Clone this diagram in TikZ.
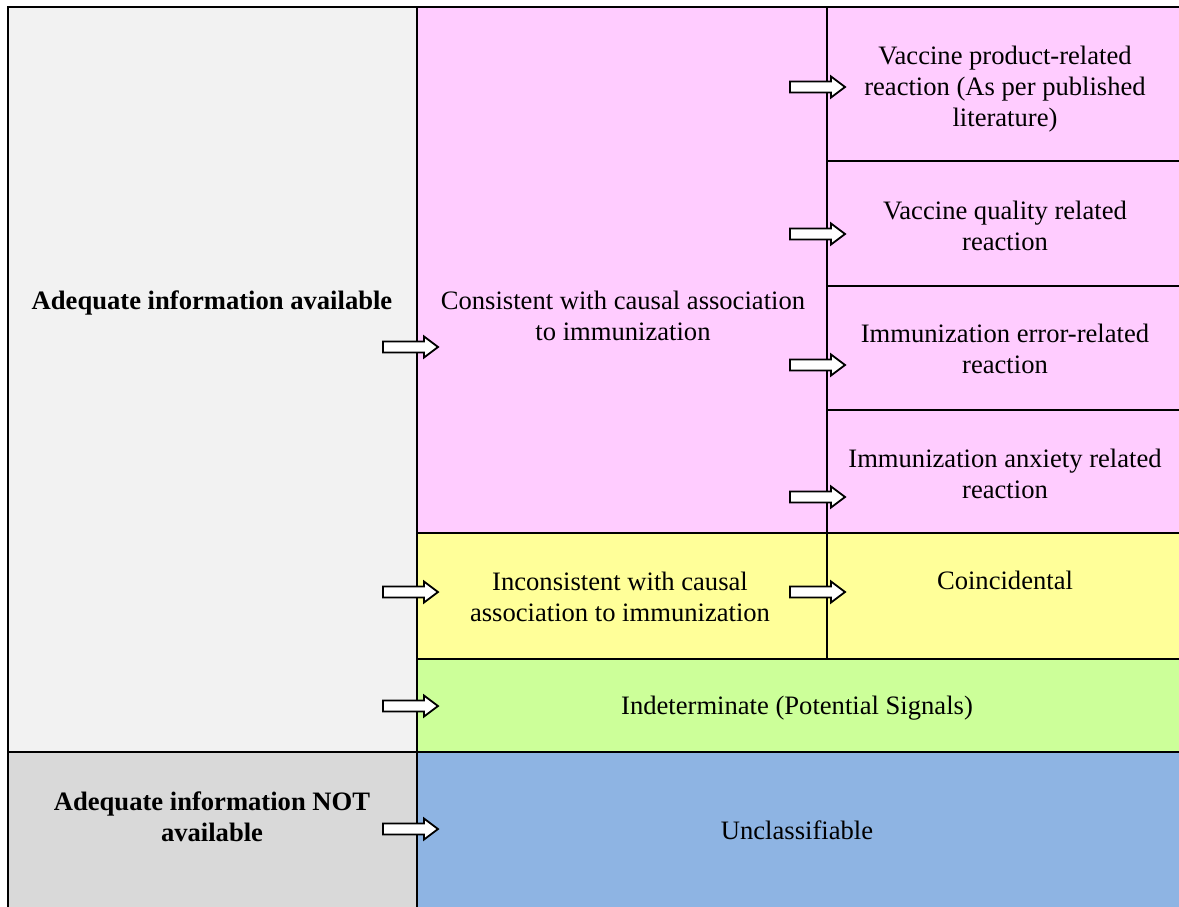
\documentclass[tikz,border=0pt]{standalone}
\usepackage{fontspec}
\setmainfont{Liberation Serif}
\definecolor{greyA}{HTML}{F2F2F2}
\definecolor{greyB}{HTML}{D9D9D9}
\definecolor{pinkC}{HTML}{FFCCFF}
\definecolor{yellowC}{HTML}{FFFF99}
\definecolor{greenC}{HTML}{CCFF99}
\definecolor{blueC}{HTML}{8EB4E3}
\tikzset{
  grid/.style={line width=2.2pt, black},
  txt/.style={align=center, inner sep=0pt, font=\fontsize{26.6}{31}\selectfont},
  btxt/.style={txt, font=\fontsize{26.6}{31}\selectfont\bfseries},
  blockarrow/.pic={\draw[line width=1.8pt, fill=white, line join=miter]
     (0,-5.5) -- (41,-5.5) -- (41,-10.5) -- (55,0) -- (41,10.5) -- (41,5.5) -- (0,5.5) -- cycle;}
}
\begin{document}
\begin{tikzpicture}[x=1pt,y=-1pt]
\useasboundingbox (0,0) rectangle (1179,907);
% fills
\fill[greyA] (8,7) rectangle (417,752);
\fill[greyB] (8,752) rectangle (417,907);
\fill[pinkC] (417,7) rectangle (1179,533);
\fill[yellowC] (417,533) rectangle (1179,659);
\fill[greenC] (417,659) rectangle (1179,752);
\fill[blueC] (417,752) rectangle (1179,907);
% grid lines
\draw[grid] (1179,7) -- (8,7) -- (8,907);
\draw[grid] (417,7) -- (417,907);
\draw[grid] (827,7) -- (827,659);
\draw[grid] (8,752) -- (1179,752);
\draw[grid] (417,533) -- (1179,533);
\draw[grid] (417,659) -- (1179,659);
\draw[grid] (827,161) -- (1179,161);
\draw[grid] (827,286) -- (1179,286);
\draw[grid] (827,410) -- (1179,410);
% texts
\node[btxt] (avail) at (212,303) {Adequate information available};
\node[btxt] (notavail) at (212,817) {Adequate information NOT\\available};
\node[txt] (consistent) at (623,316) {Consistent with causal association\\to immunization};
\node[txt] (vprod) at (1005,89) {Vaccine product-related\\reaction (As per published\\literature)};
\node[txt] (vqual) at (1005,226) {Vaccine quality related\\reaction};
\node[txt] (ierr) at (1005,349) {Immunization error-related\\reaction};
\node[txt] (ianx) at (1005,474) {Immunization anxiety related\\reaction};
\node[txt] (incons) at (620,597) {Inconsistent with causal\\association to immunization};
\node[txt] (coinc) at (1005,580) {Coincidental};
\node[txt] (indet) at (797,708) {Indeterminate (Potential Signals)};
\node[txt] (unclass) at (797,830) {Unclassifiable};
% block arrows
\pic at (383,347) {blockarrow};
\pic at (383,592) {blockarrow};
\pic at (383,706) {blockarrow};
\pic at (383,829) {blockarrow};
\pic at (790,87) {blockarrow};
\pic at (790,234) {blockarrow};
\pic at (790,365) {blockarrow};
\pic at (790,497) {blockarrow};
\pic at (790,592) {blockarrow};
\end{tikzpicture}
\end{document}
